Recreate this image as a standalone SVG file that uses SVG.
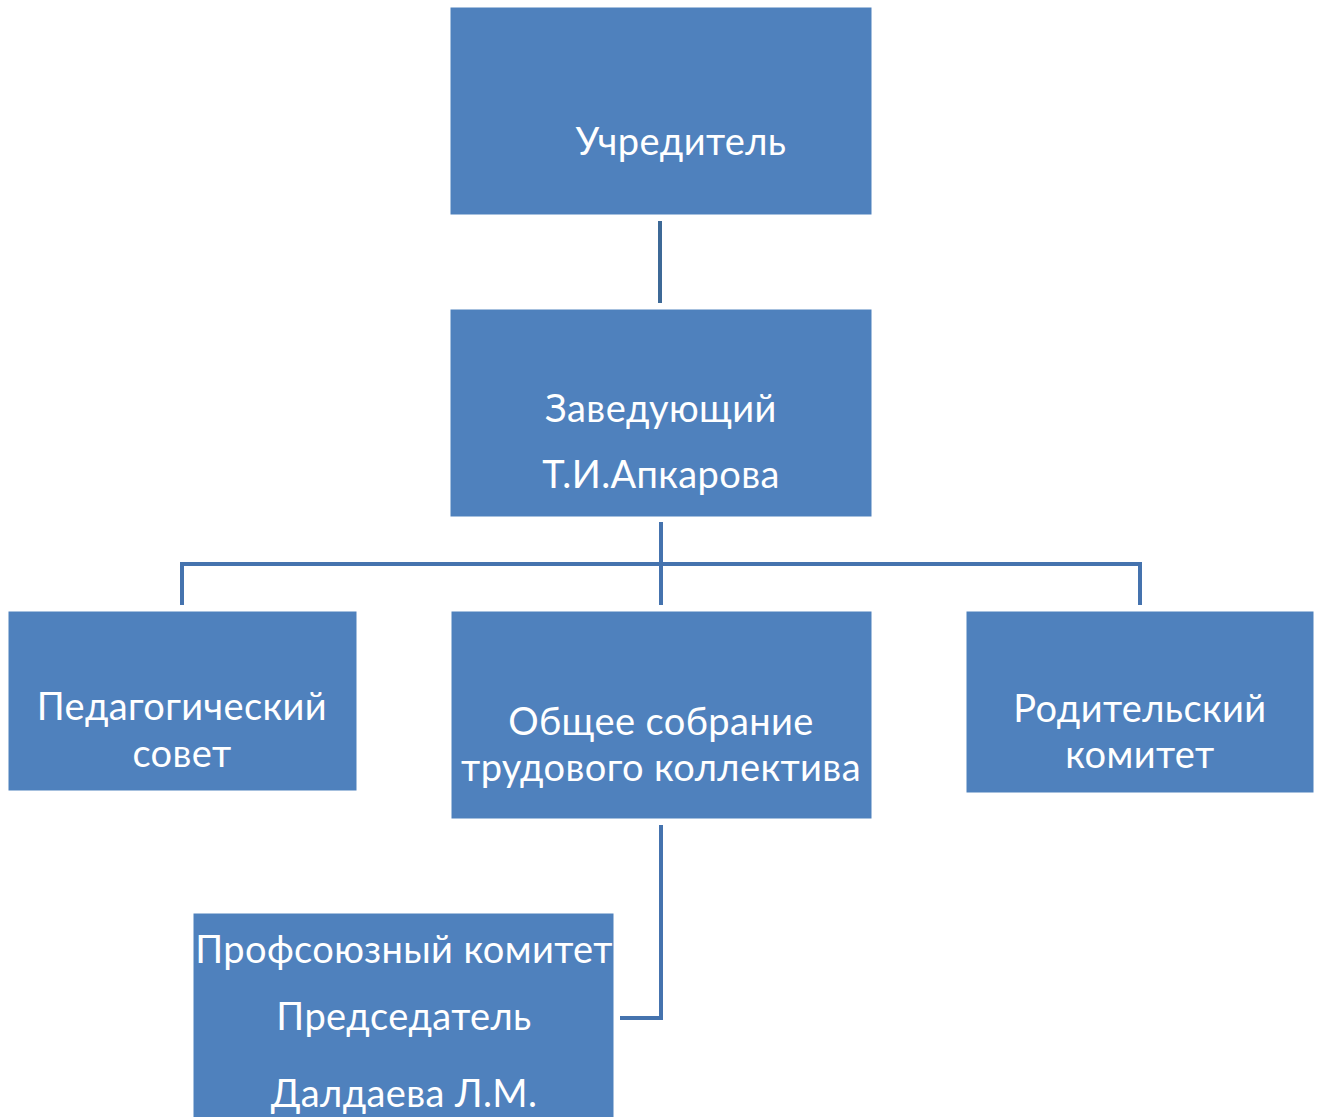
<svg xmlns="http://www.w3.org/2000/svg" width="1317" height="1117" viewBox="0 0 1317 1117">
<style>
.box{fill:#4F81BD;stroke:#4F81BD;stroke-width:1}
.t{font-family:Lato,"Open Sans",sans-serif;font-size:38px;letter-spacing:0.4px;fill:#FFFFFF;text-anchor:middle}
.c{fill:none;stroke:#4573AE;stroke-width:4}
</style>
<rect width="1317" height="1117" fill="#FFFFFF"/>
<g id="connectors">
<line class="c" x1="660" y1="221" x2="660" y2="303" style="stroke:#3D6997"/>
<line class="c" x1="661" y1="522" x2="661" y2="605"/>
<polyline class="c" points="182,605 182,564 1140,564 1140,605"/>
<polyline class="c" points="661,825 661,1018 620,1018"/>
</g>
<g id="n1"><rect class="box" x="451" y="8" width="420" height="206"/><text class="t" x="681" y="155">Учредитель</text></g>
<g id="n2"><rect class="box" x="451" y="310" width="420" height="206"/><text class="t" x="661" y="422">Заведующий</text><text class="t" x="661" y="488">Т.И.Апкарова</text></g>
<g id="n3"><rect class="box" x="9" y="612" width="347" height="178"/><text class="t" x="182" y="720">Педагогический</text><text class="t" x="182" y="767">совет</text></g>
<g id="n4"><rect class="box" x="452" y="612" width="419" height="206"/><text class="t" x="661" y="735">Общее собрание</text><text class="t" x="661" y="781">трудового коллектива</text></g>
<g id="n5"><rect class="box" x="967" y="612" width="346" height="180"/><text class="t" x="1140" y="722">Родительский</text><text class="t" x="1140" y="768">комитет</text></g>
<g id="n6"><rect class="box" x="194" y="914" width="419" height="210"/><text class="t" x="404" y="963">Профсоюзный комитет</text><text class="t" x="404" y="1030">Председатель</text><text class="t" x="404" y="1107">Далдаева Л.М.</text></g>
</svg>
